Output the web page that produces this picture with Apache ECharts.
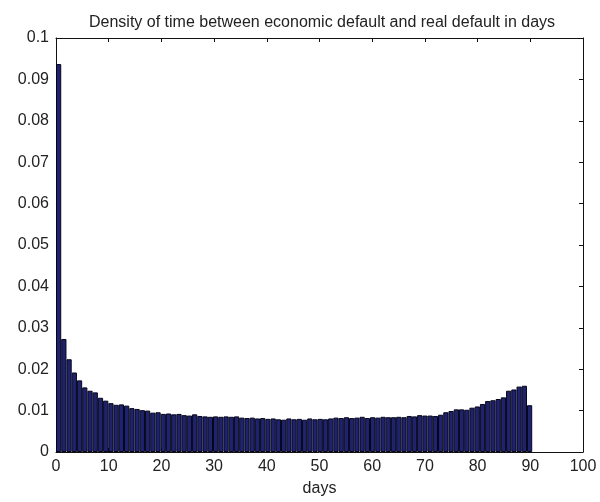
<!DOCTYPE html>
<html>
<head>
<meta charset="utf-8">
<script src="https://cdn.jsdelivr.net/npm/echarts@6/dist/echarts.min.js"></script>
<style>
  html, body { margin: 0; padding: 0; background: #ffffff; }
  #chart { width: 600px; height: 502px; }
</style>
</head>
<body>
<div id="chart"></div>
<script>
// Histogram bins: start of first bin and bin width (days)
const binStart = 0;
const binWidth = 0.993;

// Density per bin (days 0..90)
const density = [
  0.0937, 0.0273, 0.0224, 0.0192, 0.0173, 0.0156, 0.0148, 0.0144, 0.0131, 0.0124,
  0.0118, 0.0114, 0.0115, 0.0112, 0.0106, 0.0104, 0.0101, 0.0100, 0.0095, 0.0096,
  0.0092, 0.0093, 0.0091, 0.0092, 0.0089, 0.0088, 0.0091, 0.0087, 0.0086, 0.0085,
  0.0086, 0.0085, 0.0086, 0.0085, 0.0086, 0.0083, 0.0082, 0.0083, 0.0081, 0.0082,
  0.0080, 0.0081, 0.0079, 0.0078, 0.0081, 0.0079, 0.0080, 0.0078, 0.0081, 0.0079,
  0.0080, 0.0079, 0.0081, 0.0083, 0.0082, 0.0084, 0.0082, 0.0083, 0.0085, 0.0082,
  0.0084, 0.0083, 0.0085, 0.0084, 0.0084, 0.0085, 0.0084, 0.0087, 0.0086, 0.0089,
  0.0088, 0.0088, 0.0087, 0.0090, 0.0096, 0.0099, 0.0103, 0.0103, 0.0102, 0.0107,
  0.0110, 0.0116, 0.0123, 0.0125, 0.0128, 0.0132, 0.0148, 0.0151, 0.0158, 0.0160,
  0.0113
];

const xTicks = [0, 10, 20, 30, 40, 50, 60, 70, 80, 90, 100];
const yTicks = [0, 0.01, 0.02, 0.03, 0.04, 0.05, 0.06, 0.07, 0.08, 0.09, 0.1];

const titleText = 'Density of time between economic default and real default in days';
const xName = 'days';

const points = density.map((v, i) => [binStart + (i + 0.5) * binWidth, v]);

const fontFam = '"Liberation Sans", Arial, Helvetica, sans-serif';
const axisColor = '#111111';
const labelColor = '#222222';

const chart = echarts.init(document.getElementById('chart'), null, { renderer: 'canvas' });
chart.setOption({
  animation: false,
  backgroundColor: '#ffffff',
  title: {
    text: titleText,
    left: 84,
    top: 10,
    textStyle: { fontFamily: fontFam, fontSize: 16, fontWeight: 'normal', color: labelColor }
  },
  grid: { left: 56, right: 17, top: 38, bottom: 49, containLabel: false },
  xAxis: [
    {
      type: 'value', min: xTicks[0], max: xTicks[xTicks.length - 1], interval: 10,
      name: xName, nameLocation: 'middle', nameGap: 29,
      nameTextStyle: { fontFamily: fontFam, fontSize: 16, color: labelColor },
      axisLine: { show: true, onZero: false, lineStyle: { color: axisColor, width: 1 } },
      axisTick: { show: true, inside: true, length: 4, lineStyle: { color: axisColor } },
      axisLabel: { fontFamily: fontFam, fontSize: 16, color: labelColor, margin: 7 },
      splitLine: { show: false }
    },
    {
      type: 'value', position: 'top', min: xTicks[0], max: xTicks[xTicks.length - 1], interval: 10,
      axisLine: { show: true, onZero: false, lineStyle: { color: axisColor, width: 1 } },
      axisTick: { show: true, inside: true, length: 4, lineStyle: { color: axisColor } },
      axisLabel: { show: false },
      splitLine: { show: false }
    }
  ],
  yAxis: [
    {
      type: 'value', min: yTicks[0], max: yTicks[yTicks.length - 1], interval: 0.01,
      axisLine: { show: true, onZero: false, lineStyle: { color: axisColor, width: 1 } },
      axisTick: { show: true, inside: true, length: 4, lineStyle: { color: axisColor } },
      axisLabel: {
        fontFamily: fontFam, fontSize: 16, color: labelColor, margin: 7,
        formatter: v => String(parseFloat(v.toFixed(3)))
      },
      splitLine: { show: false }
    },
    {
      type: 'value', position: 'right', min: yTicks[0], max: yTicks[yTicks.length - 1], interval: 0.01,
      axisLine: { show: true, onZero: false, lineStyle: { color: axisColor, width: 1 } },
      axisTick: { show: true, inside: true, length: 4, lineStyle: { color: axisColor } },
      axisLabel: { show: false },
      splitLine: { show: false }
    }
  ],
  series: [
    {
      type: 'bar',
      data: points,
      xAxisIndex: 0,
      yAxisIndex: 0,
      barWidth: '100%',
      itemStyle: { color: '#1f236e', borderColor: '#05051a', borderWidth: 1 }
    }
  ]
});
</script>
</body>
</html>
